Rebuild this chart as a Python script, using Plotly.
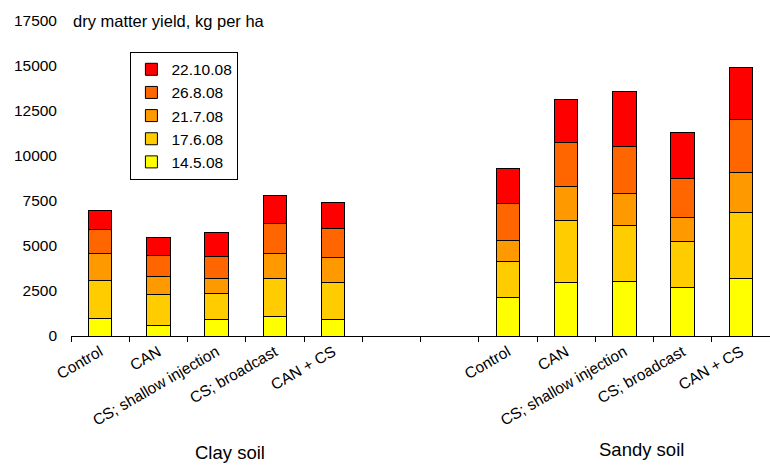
import plotly.graph_objects as go

treatments = ["Control", "CAN", "CS; shallow injection", "CS; broadcast", "CAN + CS"]
soils = ["Clay soil", "Sandy soil"]
dates = ["14.5.08", "17.6.08", "21.7.08", "26.8.08", "22.10.08"]
colors = ["#FFFF00", "#FFCC00", "#FF9900", "#FF6600", "#FF0000"]

# dry matter yield increments per harvest (kg/ha): clay (5) then sandy (5)
y_145 = [980, 610, 910, 1070, 940, 2130, 2980, 3040, 2720, 3210]
y_176 = [2130, 1670, 1460, 2110, 2060, 2020, 3420, 3090, 2520, 3630]
y_217 = [1460, 1040, 800, 1410, 1370, 1170, 1910, 1800, 1350, 2260]
y_268 = [1370, 1180, 1220, 1670, 1590, 2030, 2420, 2610, 2150, 2940]
y_2210 = [1020, 980, 1370, 1520, 1450, 1970, 2430, 3030, 2580, 2870]
series = [y_145, y_176, y_217, y_268, y_2210]

ZW = "\u200b"
clay_x = list(treatments)
sandy_x = [t + ZW for t in treatments]
gap_x = [ZW * 2, ZW * 3]
x_all = clay_x + sandy_x
cat_order = clay_x + gap_x + sandy_x

FONT = "Liberation Sans, Arial, sans-serif"

fig = go.Figure()
for name, vals, col in zip(dates, series, colors):
    fig.add_trace(go.Bar(
        x=x_all, y=vals, name=name,
        marker=dict(color=col, line=dict(color="black", width=1)),
    ))

fig.update_layout(
    width=770, height=466,
    margin=dict(l=71, r=0, t=21, b=130),
    barmode="stack", bargap=0.6,
    plot_bgcolor="white", paper_bgcolor="white",
    font=dict(family=FONT, size=15, color="black"),
    showlegend=True,
    legend=dict(
        x=0.085, y=0.9025, xanchor="left", yanchor="top",
        bordercolor="black", borderwidth=1, bgcolor="white",
        traceorder="reversed", font=dict(size=15.5), itemwidth=30,
        tracegroupgap=0,
    ),
)
fig.update_xaxes(
    type="category", categoryorder="array", categoryarray=cat_order,
    showline=True, linecolor="black", linewidth=1,
    ticks="outside", ticklen=5, tickcolor="black", tickson="boundaries",
    tickangle=-30, tickfont=dict(size=15.5), showgrid=False,
)
fig.update_yaxes(
    range=[0, 17500], dtick=2500, tickformat="d", showgrid=False, showline=False,
    ticks="", tickfont=dict(size=15.5), ticklabelstandoff=13, zeroline=False,
)
fig.add_annotation(text="dry matter yield, kg per ha", xref="paper", yref="paper",
                   x=0.0, y=1.0, xanchor="left", yanchor="middle", showarrow=False,
                   font=dict(size=16.5))
fig.add_annotation(text=soils[0], xref="x", yref="paper", x=2.23, y=-0.37,
                   xanchor="center", yanchor="middle", showarrow=False, font=dict(size=18.5))
fig.add_annotation(text=soils[1], xref="x", yref="paper", x=9.3, y=-0.36,
                   xanchor="center", yanchor="middle", showarrow=False, font=dict(size=18.5))

fig.write_html("out.html")
